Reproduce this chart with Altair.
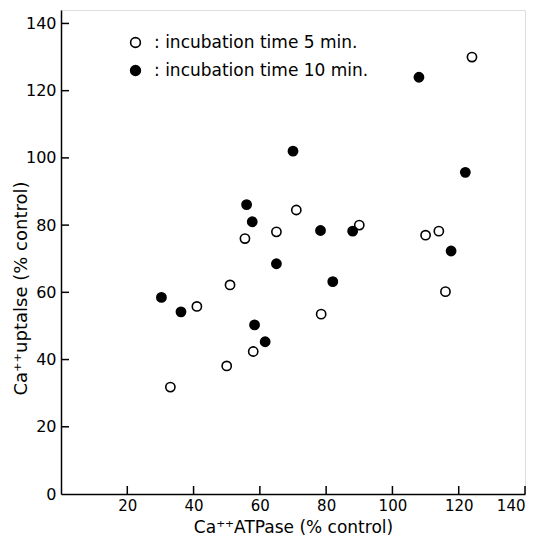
import altair as alt
import pandas as pd

open_x = [124, 71, 55.5, 65, 90, 110, 114, 51, 41, 78.5, 116, 58, 50, 33]
open_y = [130, 84.5, 76, 78, 80, 77, 78.2, 62.2, 55.8, 53.5, 60.2, 42.4, 38.1, 31.8]
filled_x = [108, 70, 122, 56, 57.7, 78.3, 88, 117.7, 65, 30.3, 36.2, 58.4, 61.6, 82]
filled_y = [124, 102, 95.7, 86.1, 81, 78.4, 78.2, 72.3, 68.5, 58.5, 54.2, 50.3, 45.3, 63.2]
series = ["incubation time  5 min.", "incubation time 10 min."]
x_ticks = [20, 40, 60, 80, 100, 120, 140]
y_ticks = [0, 20, 40, 60, 80, 100, 120, 140]

rows = [{"x": a, "y": b, "s": series[0]} for a, b in zip(open_x, open_y)]
rows += [{"x": a, "y": b, "s": series[1]} for a, b in zip(filled_x, filled_y)]
df = pd.DataFrame(rows)

W, H = 464, 484
FONT = "DejaVu Sans"

xs = alt.Scale(domain=[0, 140], nice=False, zero=False)
ys = alt.Scale(domain=[0, 144], nice=False, zero=False)

points = alt.Chart(df).mark_circle(size=85, stroke="black", strokeWidth=1.6, opacity=1).encode(
    x=alt.X("x:Q", scale=xs, axis=alt.Axis(
        values=x_ticks, ticks=False, grid=False, title="Ca⁺⁺ATPase (% control)",
        labelPadding=4, titleY=33, titleBaseline="middle",
        domainColor="black", domainWidth=1.5,
        labelFont=FONT, labelFontSize=15, labelColor="black",
        titleFont=FONT, titleFontSize=17, titleFontWeight="normal", titleColor="black")),
    y=alt.Y("y:Q", scale=ys, axis=alt.Axis(
        values=y_ticks, ticks=False, grid=False, title="Ca⁺⁺uptalse (% control)",
        labelPadding=5, titleX=-31, titleY=278, domainColor="black", domainWidth=1.5,
        labelFont=FONT, labelFontSize=16, labelColor="black",
        titleFont=FONT, titleFontSize=18, titleFontWeight="normal", titleColor="black")),
    fill=alt.Fill("s:N", scale=alt.Scale(domain=series, range=["white", "black"]),
                  legend=alt.Legend(title=None, orient="none", legendX=66, legendY=24,
                                    labelExpr="':  ' + datum.label", labelLimit=0,
                                    symbolType="circle", symbolSize=95,
                                    symbolStrokeColor="black", symbolStrokeWidth=1.6,
                                    labelFont=FONT, labelFontSize=17, labelColor="black",
                                    rowPadding=10, labelOffset=10)),
)

ytick_df = pd.DataFrame({"y": y_ticks[1:]})
yt = alt.Chart(ytick_df).mark_rule(color="black", strokeWidth=1.5).encode(
    y=alt.Y("y:Q", scale=ys), x=alt.value(0), x2=alt.value(8))

xtick_df = pd.DataFrame({"x": x_ticks})
xt = alt.Chart(xtick_df).mark_rule(color="black", strokeWidth=1.5).encode(
    x=alt.X("x:Q", scale=xs), y=alt.value(H), y2=alt.value(H - 8))

chart = alt.layer(points, yt, xt).properties(
    width=W, height=H,
    autosize=alt.AutoSizeParams(type="none"),
    padding={"left": 53, "top": 2, "right": 10, "bottom": 42},
).configure_view(stroke=None).configure(background="white")

chart.save("out.html", embed_options={"renderer": "svg", "actions": False})
